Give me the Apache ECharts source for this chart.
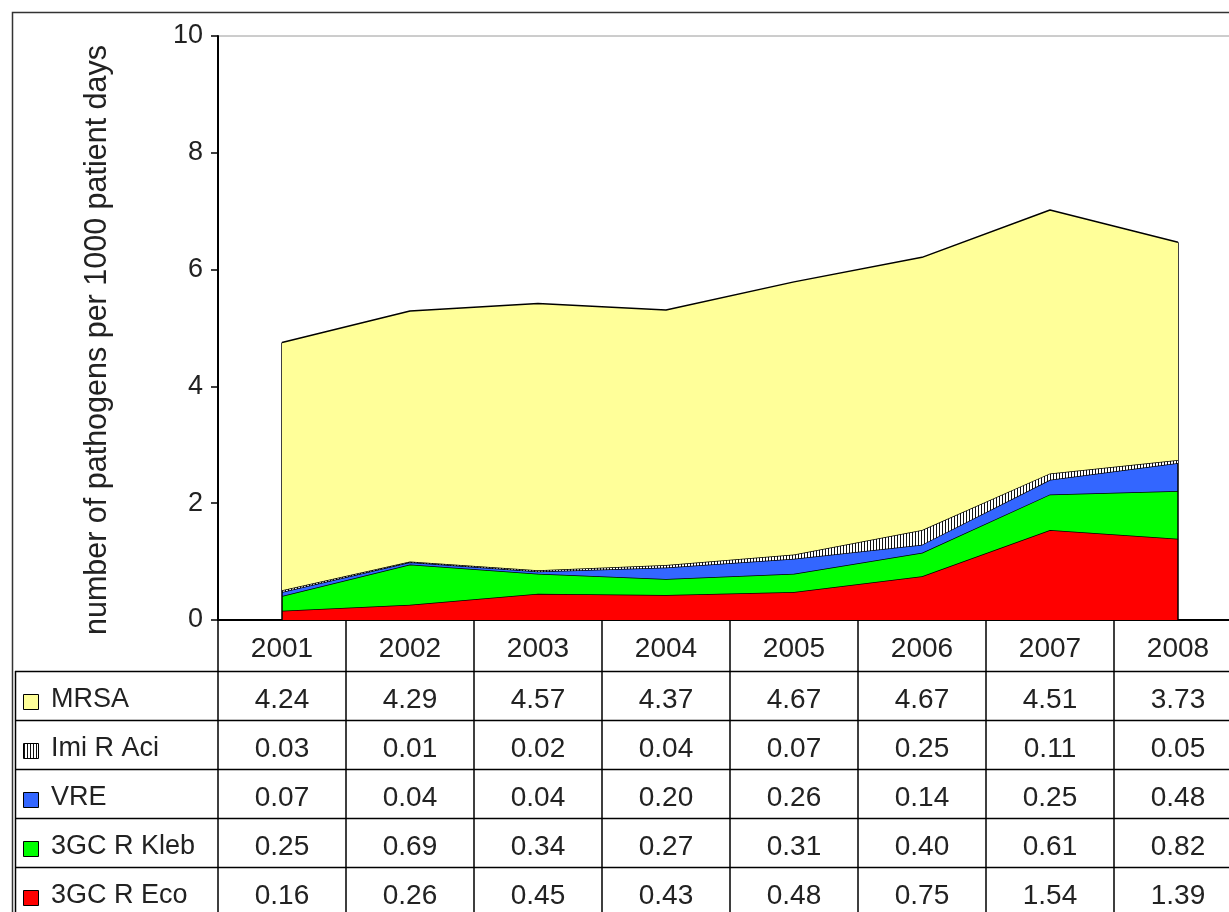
<!DOCTYPE html>
<html>
<head>
<meta charset="utf-8">
<script src="https://cdn.jsdelivr.net/npm/echarts@6/dist/echarts.min.js"></script>
<style>
  html, body { margin: 0; padding: 0; background: #fff; }
  #chart { width: 1229px; height: 912px; }
</style>
</head>
<body>
<div id="chart"></div>
<script>
// Pathogen incidence per 1000 patient days, by year
const years = ['2001', '2002', '2003', '2004', '2005', '2006', '2007', '2008'];
const eco  = [0.16, 0.26, 0.45, 0.43, 0.48, 0.75, 1.54, 1.39];
const kleb = [0.25, 0.69, 0.34, 0.27, 0.31, 0.40, 0.61, 0.82];
const vre  = [0.07, 0.04, 0.04, 0.20, 0.26, 0.14, 0.25, 0.48];
const aci  = [0.03, 0.01, 0.02, 0.04, 0.07, 0.25, 0.11, 0.05];
const mrsa = [4.24, 4.29, 4.57, 4.37, 4.67, 4.67, 4.51, 3.73];
const yTicks = [0, 2, 4, 6, 8, 10];
const yTitle = 'number of pathogens per 1000 patient days';

const FONT = '"Liberation Sans", Arial, sans-serif';
const TXT = '#222';

// vertical stripe fill for the Imi R Aci band
function stripes() {
  const c = document.createElement('canvas');
  c.width = 3; c.height = 3;
  const g = c.getContext('2d');
  g.fillStyle = '#fff'; g.fillRect(0, 0, 3, 3);
  g.fillStyle = '#111'; g.fillRect(0, 0, 1, 3);
  return c;
}
const hatch = { image: stripes(), repeat: 'repeat' };

const series = [
  { name: '3GC R Eco',  data: eco,  fill: '#ff0000' },
  { name: '3GC R Kleb', data: kleb, fill: '#00ff00' },
  { name: 'VRE',        data: vre,  fill: '#3366ff' },
  { name: 'Imi R Aci',  data: aci,  fill: hatch },
  { name: 'MRSA',       data: mrsa, fill: '#ffff99' }
];

const totals = years.map((_, i) => series.reduce((s, d) => s + d.data[i], 0));
const last = years.length - 1;

const chart = echarts.init(document.getElementById('chart'), null, { renderer: 'canvas' });

chart.setOption({
  animation: false,
  backgroundColor: '#fff',
  grid: {
    left: 218, top: 36, width: 1024, height: 584,
    outerBoundsMode: 'none',
    show: true, borderColor: '#9a9a9a', borderWidth: 1, backgroundColor: '#fff'
  },
  xAxis: {
    type: 'category',
    data: years,
    boundaryGap: true,
    axisLine: { lineStyle: { color: '#000', width: 2 } },
    axisTick: { show: true, interval: 0, length: 292, lineStyle: { color: '#000', width: 1.5 } },
    axisLabel: { interval: 0, margin: 15, fontSize: 28, fontFamily: FONT, color: TXT }
  },
  yAxis: {
    type: 'value',
    min: yTicks[0], max: yTicks[yTicks.length - 1], interval: 2,
    axisLine: { show: true, lineStyle: { color: '#000', width: 2 } },
    axisTick: { show: true, length: 7, lineStyle: { color: '#000', width: 1.5 } },
    axisLabel: { margin: 15, fontSize: 27, fontFamily: FONT, color: TXT, padding: [4, 0, 0, 0] },
    splitLine: { show: false }
  },
  series: series.map((s, k) => ({
    name: s.name,
    type: 'line',
    stack: 'total',
    symbol: 'none',
    data: s.data,
    lineStyle: { color: '#000', width: 1.5 },
    areaStyle: { color: s.fill, opacity: 1 },
    z: 2 + k,
    markLine: k === series.length - 1 ? {
      silent: true, symbol: 'none', label: { show: false },
      lineStyle: { color: '#000', width: 1.5, type: 'solid' },
      data: [
        [{ coord: [years[0], 0] }, { coord: [years[0], totals[0]] }],
        [{ coord: [years[last], 0] }, { coord: [years[last], totals[last]] }]
      ]
    } : undefined
  }))
});

// data table below the plot
const rows = [
  { name: 'MRSA',       data: mrsa, fill: '#ffff99' },
  { name: 'Imi R Aci',  data: aci,  fill: hatch },
  { name: 'VRE',        data: vre,  fill: '#3366ff' },
  { name: '3GC R Kleb', data: kleb, fill: '#00ff00' },
  { name: '3GC R Eco',  data: eco,  fill: '#ff0000' }
];
const rowTop = 671, rowH = 49;
const W = 1229, H = 912;

const g = [];
// outer frame
g.push({ type: 'polyline', shape: { points: [[12.5, H], [12.5, 12.5], [W, 12.5]] },
  style: { stroke: '#333', lineWidth: 1.5, fill: null }, z: 100 });
// table left edge
g.push({ type: 'line', shape: { x1: 15.5, y1: rowTop, x2: 15.5, y2: H },
  style: { stroke: '#000', lineWidth: 1.5 }, z: 100 });

rows.forEach((r, ri) => {
  const top = rowTop + ri * rowH;
  g.push({ type: 'line', shape: { x1: 15, y1: top + 0.5, x2: W, y2: top + 0.5 },
    style: { stroke: '#000', lineWidth: 1.5 }, z: 100 });
  g.push({ type: 'rect', shape: { x: 23.5, y: top + 23.5, width: 15, height: 15 },
    style: { fill: r.fill, stroke: '#000', lineWidth: 1 }, z: 100 });
  g.push({ type: 'text', x: 51, y: top + 29,
    style: { text: r.name, font: '27px ' + FONT, fill: TXT, textAlign: 'left', textVerticalAlign: 'middle' }, z: 100 });
  r.data.forEach((v, i) => {
    const px = chart.convertToPixel({ xAxisIndex: 0 }, years[i]);
    g.push({ type: 'text', x: px, y: top + 29,
      style: { text: v.toFixed(2), font: '28px ' + FONT, fill: TXT, textAlign: 'center', textVerticalAlign: 'middle' }, z: 100 });
  });
});

// rotated axis title
g.push({ type: 'text', x: 98, y: 340, rotation: Math.PI / 2,
  style: { text: yTitle, font: '30.5px ' + FONT, fill: TXT, textAlign: 'center', textVerticalAlign: 'middle' }, z: 100 });

chart.setOption({ graphic: { elements: g } });
</script>
</body>
</html>
